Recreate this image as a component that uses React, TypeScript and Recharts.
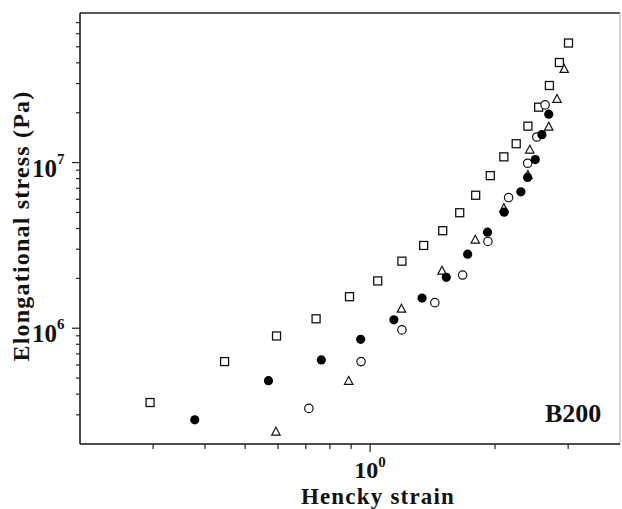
import { ScatterChart, Scatter, XAxis, YAxis, ReferenceLine } from "recharts";

// open squares
const squareStrain = [0.295, 0.446, 0.595, 0.741, 0.892, 1.043, 1.193, 1.346, 1.496, 1.644, 1.796, 1.948, 2.1, 2.249, 2.4, 2.547, 2.704, 2.858, 3.006];
const squareStress = [3.56e5, 6.29e5, 8.98e5, 1.14e6, 1.55e6, 1.93e6, 2.54e6, 3.16e6, 3.88e6, 4.98e6, 6.35e6, 8.34e6, 1.083e7, 1.3e7, 1.66e7, 2.16e7, 2.92e7, 4.02e7, 5.27e7];

// filled circles
const filledStrain = [0.378, 0.569, 0.763, 0.949, 1.141, 1.334, 1.526, 1.718, 1.918, 2.104, 2.308, 2.396, 2.5, 2.594, 2.694];
const filledStress = [2.8e5, 4.82e5, 6.44e5, 8.57e5, 1.124e6, 1.52e6, 2.03e6, 2.8e6, 3.8e6, 5.02e6, 6.66e6, 8.14e6, 1.043e7, 1.475e7, 1.96e7];

// open circles
const openStrain = [0.712, 0.951, 1.193, 1.432, 1.671, 1.922, 2.156, 2.396, 2.521, 2.64];
const openStress = [3.28e5, 6.29e5, 9.77e5, 1.427e6, 2.095e6, 3.34e6, 6.15e6, 9.91e6, 1.427e7, 2.23e7];

// open triangles
const triStrain = [0.593, 0.888, 1.19, 1.49, 1.792, 2.1, 2.4, 2.425, 2.694, 2.82, 2.935];
const triStress = [2.37e5, 4.8e5, 1.31e6, 2.22e6, 3.42e6, 5.3e6, 8.4e6, 1.195e7, 1.643e7, 2.42e7, 3.67e7];

const xTicks = [0.3, 0.4, 0.5, 0.6, 0.7, 0.8, 0.9, 1, 2, 3];
const yTicks = [3e5, 4e5, 5e5, 6e5, 7e5, 8e5, 9e5, 1e6, 2e6, 3e6, 4e6, 5e6, 6e6, 7e6, 8e6, 9e6, 1e7, 2e7, 3e7, 4e7, 5e7, 6e7, 7e7];
const yLabels: Record<number, string> = { 1e6: "6", 1e7: "7" };

const toPoints = (xs: number[], ys: number[]) => xs.map((x, i) => ({ x, y: ys[i] }));

const FONT = "'Liberation Serif', 'Times New Roman', serif";

const OpenSquare = (p: any) => (
  <rect x={p.cx - 4} y={p.cy - 4} width={8} height={8} fill="#fff" stroke="#111" strokeWidth={1.3} />
);
const OpenCircle = (p: any) => <circle cx={p.cx} cy={p.cy} r={4.2} fill="#fff" stroke="#111" strokeWidth={1.2} />;
const FilledCircle = (p: any) => <circle cx={p.cx} cy={p.cy} r={4.6} fill="#000" />;
const OpenTriangle = (p: any) => (
  <path
    d={`M${p.cx},${p.cy - 4.6} L${p.cx + 4.2},${p.cy + 3.3} L${p.cx - 4.2},${p.cy + 3.3} Z`}
    fill="#fff"
    stroke="#111"
    strokeWidth={1.2}
  />
);

const XTick = ({ x, y, payload }: any) => {
  const major = payload.value === 1;
  return (
    <g>
      <line x1={x} y1={y} x2={x} y2={y + (major ? 8 : 5)} stroke="#222" strokeWidth={1.2} />
      {major && (
        <text x={x} y={y + 34} textAnchor="middle" fontFamily={FONT} fontWeight="bold" fontSize={24} fill="#111">
          10<tspan dy={-11} fontSize={15}>0</tspan>
        </text>
      )}
    </g>
  );
};

const YTick = ({ x, y, payload }: any) => {
  const lab = yLabels[payload.value];
  return (
    <g>
      <line x1={x} y1={y} x2={x - (lab ? 8 : 4)} y2={y} stroke="#222" strokeWidth={1.2} />
      {lab && (
        <text x={x - 48} y={y + 14} fontFamily={FONT} fontWeight="bold" fontSize={25} fill="#111">
          10<tspan dy={-13} fontSize={15}>{lab}</tspan>
        </text>
      )}
    </g>
  );
};

export default function App() {
  return (
    <div style={{ position: "fixed", left: 0, top: 0, width: 622, height: 509, background: "#fff" }}>
      <ScatterChart width={622} height={509} margin={{ top: 13, right: 2, left: 0, bottom: 0 }}>
        <XAxis
          type="number"
          dataKey="x"
          scale="log"
          domain={[0.2, 4]}
          allowDataOverflow
          ticks={xTicks}
          interval={0}
          tickSize={0}
          tickMargin={0}
          tickLine={false}
          tick={<XTick />}
          height={65}
          axisLine={{ stroke: "#111", strokeWidth: 1.5 }}
          label={{
            content: () => (
              <text x={378} y={504} textAnchor="middle" fontFamily={FONT} fontWeight="bold" fontSize={23} letterSpacing={1.2} fill="#111">
                Hencky strain
              </text>
            ),
          }}
        />
        <YAxis
          type="number"
          dataKey="y"
          scale="log"
          domain={[2e5, 8e7]}
          allowDataOverflow
          ticks={yTicks}
          interval={0}
          tickSize={0}
          tickMargin={0}
          tickLine={false}
          tick={<YTick />}
          width={80}
          axisLine={{ stroke: "#111", strokeWidth: 1.5 }}
          label={{
            content: () => (
              <text
                x={29}
                y={226}
                transform="rotate(-90 29 226)"
                textAnchor="middle"
                fontFamily={FONT}
                fontWeight="bold"
                fontSize={24}
                letterSpacing={1.2}
                fill="#111"
              >
                Elongational stress (Pa)
              </text>
            ),
          }}
        />
        <ReferenceLine y={8e7} stroke="#222" strokeWidth={1.5} />
        <ReferenceLine x={4} stroke="#aaa" strokeWidth={1} />
        <Scatter data={toPoints(squareStrain, squareStress)} shape={OpenSquare} isAnimationActive={false} />
        <Scatter data={toPoints(triStrain, triStress)} shape={OpenTriangle} isAnimationActive={false} />
        <Scatter data={toPoints(openStrain, openStress)} shape={OpenCircle} isAnimationActive={false} />
        <Scatter data={toPoints(filledStrain, filledStress)} shape={FilledCircle} isAnimationActive={false} />
      </ScatterChart>
      <div
        style={{
          position: "absolute",
          left: 545,
          top: 399,
          fontFamily: FONT,
          fontWeight: "bold",
          fontSize: 26,
          color: "#111",
          lineHeight: "30px",
        }}
      >
        B200
      </div>
    </div>
  );
}
